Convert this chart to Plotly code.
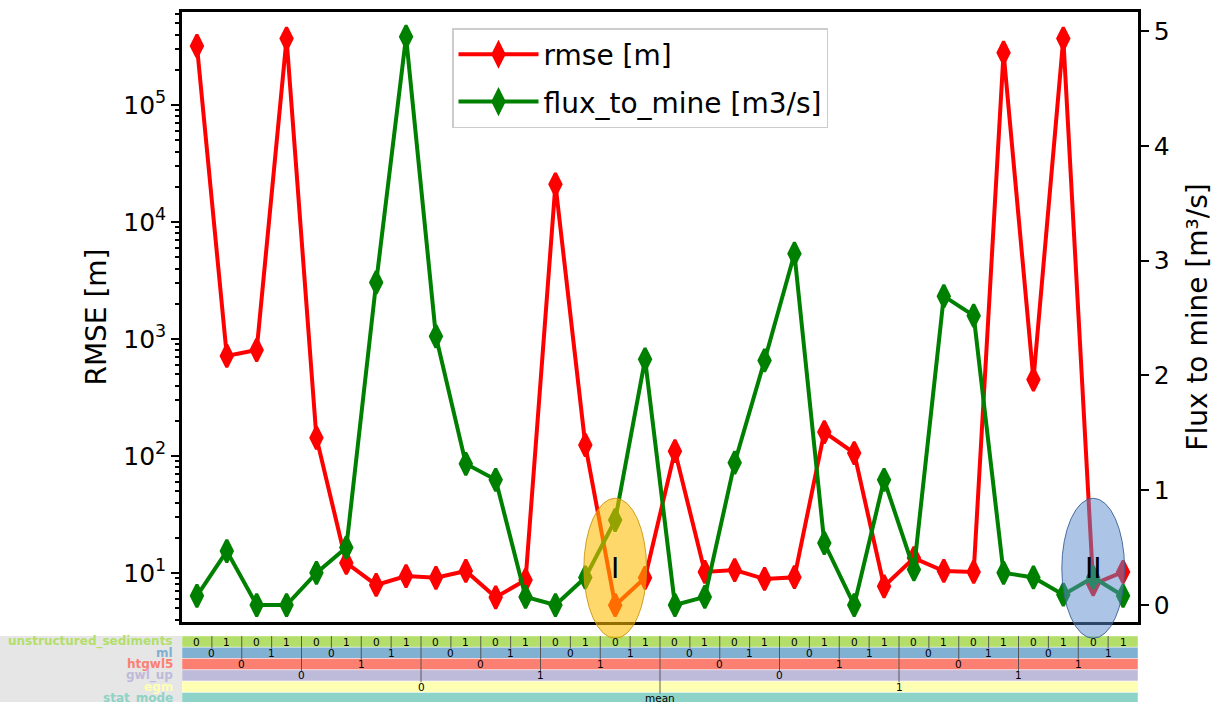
import plotly.graph_objects as go

W, H = 1214, 702

# ---------------- data ----------------
rmse = [3.2e5, 716, 805, 3.7e5, 143, 12.2, 7.9, 9.4, 9.1, 10.4, 6.2, 8.7,
        2.1e4, 124, 5.3, 9.1, 110, 10.2, 10.6, 8.9, 9.2, 160, 106, 7.7,
        13.4, 10.4, 10.2, 2.8e5, 450, 3.7e5, 8.0, 10.2]
flux = [0.08, 0.47, 0.0, 0.0, 0.28, 0.50, 2.81, 4.95, 2.34, 1.23, 1.09, 0.07,
        0.0, 0.24, 0.74, 2.14, 0.0, 0.07, 1.24, 2.13, 3.06, 0.54, 0.0, 1.09,
        0.31, 2.69, 2.52, 0.28, 0.24, 0.09, 0.24, 0.08]

unstructured_sediments = [0, 1, 0, 1, 0, 1, 0, 1, 0, 1, 0, 1, 0, 1, 0, 1,
                          0, 1, 0, 1, 0, 1, 0, 1, 0, 1, 0, 1, 0, 1, 0, 1]
ml = [0, 0, 1, 1, 0, 0, 1, 1, 0, 0, 1, 1, 0, 0, 1, 1,
      0, 0, 1, 1, 0, 0, 1, 1, 0, 0, 1, 1, 0, 0, 1, 1]
htgwl5 = [0, 0, 0, 0, 1, 1, 1, 1, 0, 0, 0, 0, 1, 1, 1, 1,
          0, 0, 0, 0, 1, 1, 1, 1, 0, 0, 0, 0, 1, 1, 1, 1]
gwl_up = [0, 0, 0, 0, 0, 0, 0, 0, 1, 1, 1, 1, 1, 1, 1, 1,
          0, 0, 0, 0, 0, 0, 0, 0, 1, 1, 1, 1, 1, 1, 1, 1]
egm = [0, 0, 0, 0, 0, 0, 0, 0, 0, 0, 0, 0, 0, 0, 0, 0,
       1, 1, 1, 1, 1, 1, 1, 1, 1, 1, 1, 1, 1, 1, 1, 1]
stat_mode = ["mean"] * 32

factor_names = ["unstructured_sediments", "ml", "htgwl5", "gwl_up", "egm", "stat_mode"]
factor_levels = [unstructured_sediments, ml, htgwl5, gwl_up, egm, stat_mode]
factor_colors = ["#b3de69", "#80b1d3", "#fb8072", "#bebada", "#ffffb3", "#8dd3c7"]

highlight_labels = ["I", "II"]
highlight_index = [14, 30]
highlight_fill = ["rgba(255,188,0,0.58)", "rgba(90,140,205,0.5)"]
highlight_line = ["rgba(200,150,20,0.9)", "rgba(60,95,150,0.9)"]

# ---------------- layout geometry ----------------
FONT = "DejaVu Sans"
N = len(rmse)
idx = list(range(N))
XD = [182 / W, 1138 / W]
YD = [80 / H, 690 / H]
TD = [0, 66 / H]
XR = [-0.5, N - 0.5]
YR = [0.581, 5.795]
Y2R = [-0.148, 5.165]
TR = [5.85, 0]


def xp(v):
    return XD[0] + (v - XR[0]) / (XR[1] - XR[0]) * (XD[1] - XD[0])


def y2p(v):
    return YD[0] + (v - Y2R[0]) / (Y2R[1] - Y2R[0]) * (YD[1] - YD[0])


def runs(vals):
    out = []
    s = 0
    for i in range(1, len(vals) + 1):
        if i == len(vals) or vals[i] != vals[s]:
            out.append((s, i - 1, vals[s]))
            s = i
    return out


fig = go.Figure()
fig.add_trace(go.Scatter(
    x=idx, y=rmse, name="rmse [m]", mode="lines+markers", legendgroup="a",
    line=dict(color="#ff0000", width=4),
    marker=dict(symbol="diamond-tall", size=16, color="#ff0000",
                line=dict(color="#ff0000", width=3)),
    xaxis="x", yaxis="y"))
fig.add_trace(go.Scatter(
    x=idx, y=flux, name="flux_to_mine [m3/s]", mode="lines+markers", legendgroup="b",
    line=dict(color="#008000", width=4),
    marker=dict(symbol="diamond-tall", size=16, color="#008000",
                line=dict(color="#008000", width=3)),
    xaxis="x", yaxis="y2"))
# invisible trace for the factor table subplot
fig.add_trace(go.Scatter(x=[0], y=[0], mode="markers", marker=dict(opacity=0),
                         showlegend=False, hoverinfo="skip", xaxis="x2", yaxis="y3"))

shapes = []
annotations = []

# gray label panel
shapes.append(dict(type="rect", xref="paper", yref="paper", x0=0, x1=XD[0],
                   y0=0, y1=TD[1], fillcolor="#e6e6e6", line=dict(width=0), layer="below"))

for r, (name, vals, col) in enumerate(zip(factor_names, factor_levels, factor_colors)):
    shapes.append(dict(type="rect", xref="x2", yref="y3", x0=XR[0], x1=XR[1],
                       y0=r, y1=r + 1, fillcolor=col,
                       line=dict(color="rgba(255,255,255,0.7)", width=0.6), layer="above"))
    annotations.append(dict(xref="paper", yref="y3", x=175 / W, y=r + 0.5,
                            text="<b>" + name + "</b>", showarrow=False,
                            xanchor="right", yanchor="middle",
                            font=dict(family=FONT, size=12, color=col)))
    for (s, e, v) in runs(vals):
        c = (s + e) / 2
        annotations.append(dict(xref="x2", yref="y3", x=c, y=r + 0.5, text=str(v),
                                showarrow=False, xanchor="center", yanchor="middle",
                                font=dict(family=FONT, size=10.5, color="black")))
        if r > 0:
            shapes.append(dict(type="line", xref="x2", yref="y3", x0=c, x1=c,
                               y0=0, y1=r + 0.1,
                               line=dict(color="rgba(70,70,70,0.85)", width=1), layer="above"))

# highlight ellipses
for lab, i, fc, lc in zip(highlight_labels, highlight_index, highlight_fill, highlight_line):
    shapes.append(dict(type="circle", xref="paper", yref="paper",
                       x0=xp(i - 1.05), x1=xp(i + 1.05), y0=y2p(-0.29), y1=y2p(0.93),
                       fillcolor=fc, line=dict(color=lc, width=1), layer="above"))
    annotations.append(dict(xref="x", yref="y2", x=i, y=0.32, text=lab, showarrow=False,
                            xanchor="center", yanchor="middle",
                            font=dict(family=FONT, size=28, color="black")))

major = [10, 100, 1000, 10000, 100000]
minor_vals = [m * 10 ** k for k in range(0, 6) for m in range(2, 10)]

fig.update_layout(
    width=W, height=H,
    margin=dict(l=0, r=0, t=0, b=0),
    paper_bgcolor="white", plot_bgcolor="rgba(0,0,0,0)",
    font=dict(family=FONT, color="black"),
    showlegend=True,
    legend=dict(x=452 / W, y=(H - 28) / H, xanchor="left", yanchor="top",
                bgcolor="rgba(255,255,255,0.85)", bordercolor="#cccccc", borderwidth=1.5,
                itemwidth=80, tracegroupgap=8,
                font=dict(family=FONT, size=28, color="black")),
    xaxis=dict(domain=XD, range=XR, anchor="y", showticklabels=False, ticks="",
               showgrid=False, zeroline=False, showline=True, mirror=True,
               linecolor="black", linewidth=2.5),
    yaxis=dict(domain=YD, type="log", range=YR, anchor="x", side="left",
               tickvals=major,
               ticktext=["10<sup>%d</sup>" % k for k in range(1, 6)],
               ticks="outside", ticklen=8, tickwidth=2, tickcolor="black",
               tickfont=dict(family=FONT, size=25, color="black"),
               minor=dict(tickvals=minor_vals, ticks="outside", ticklen=4.5,
                          tickwidth=1.5, tickcolor="black", showgrid=False),
               showgrid=False, zeroline=False, showline=True, linecolor="black",
               linewidth=2.5,
               title=dict(text="RMSE [m]", standoff=9,
                          font=dict(family=FONT, size=28, color="black"))),
    yaxis2=dict(domain=YD, range=Y2R, overlaying="y", side="right", anchor="x",
                tickvals=[0, 1, 2, 3, 4, 5],
                ticks="outside", ticklen=8, tickwidth=2, tickcolor="black",
                tickfont=dict(family=FONT, size=25, color="black"),
                showgrid=False, zeroline=False, showline=True, linecolor="black",
                linewidth=2.5,
                title=dict(text="Flux to mine [m³/s]", standoff=22,
                           font=dict(family=FONT, size=28, color="black"))),
    xaxis2=dict(domain=XD, range=XR, anchor="y3", matches="x", visible=False),
    yaxis3=dict(domain=TD, range=TR, anchor="x2", visible=False),
    shapes=shapes,
    annotations=annotations,
)

fig.write_html("out.html", config={"displayModeBar": False},
               post_script="document.body.style.margin='0';document.body.style.overflow='hidden';")
